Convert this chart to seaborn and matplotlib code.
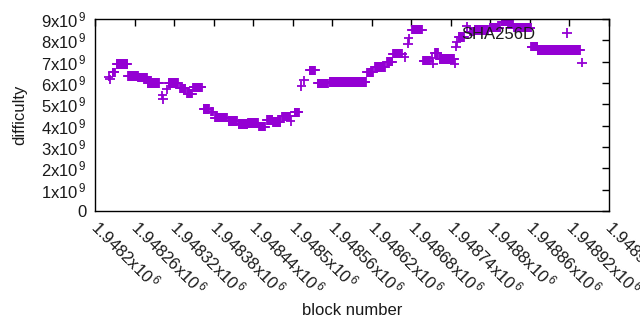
import numpy as np
import pandas as pd
import matplotlib
matplotlib.use("Agg")
import matplotlib.pyplot as plt
import seaborn as sns
from matplotlib.ticker import FuncFormatter, MultipleLocator

# runs of constant difficulty: first block, last block, difficulty (x1e9)
run_start = [1948221, 1948223, 1948227, 1948233, 1948250, 1948266, 1948280, 1948302, 1948303,
             1948309, 1948312, 1948329, 1948340, 1948349, 1948365, 1948376, 1948382, 1948403,
             1948418, 1948432, 1948449, 1948461, 1948470, 1948484, 1948497, 1948503, 1948513,
             1948517, 1948526, 1948538, 1948556, 1948613, 1948625, 1948643, 1948652, 1948670,
             1948675, 1948676, 1948681, 1948698, 1948711, 1948713, 1948716, 1948723, 1948746,
             1948748, 1948749, 1948752, 1948764, 1948769, 1948776, 1948799, 1948817, 1948827,
             1948836, 1948862, 1948872, 1948939]
run_end = [1948221, 1948223, 1948230, 1948249, 1948265, 1948279, 1948297, 1948302, 1948303,
           1948309, 1948326, 1948337, 1948347, 1948362, 1948373, 1948379, 1948400, 1948415,
           1948431, 1948447, 1948458, 1948469, 1948481, 1948496, 1948497, 1948509, 1948513,
           1948517, 1948534, 1948553, 1948611, 1948622, 1948640, 1948651, 1948666, 1948670,
           1948675, 1948676, 1948696, 1948708, 1948711, 1948713, 1948720, 1948745, 1948746,
           1948748, 1948749, 1948760, 1948764, 1948775, 1948796, 1948814, 1948825, 1948834,
           1948861, 1948871, 1948936, 1948939]
run_diff = [6.30, 6.18, 6.50, 6.89, 6.33, 6.27, 6.00, 5.42, 5.25,
            5.70, 6.00, 5.75, 5.50, 5.80, 4.78, 4.65, 4.37, 4.22,
            4.08, 4.12, 3.96, 4.26, 4.17, 4.43, 4.20, 4.62, 5.86,
            6.12, 6.60, 5.98, 6.04, 6.50, 6.75, 7.00, 7.37, 7.22,
            7.85, 8.10, 8.50, 7.05, 7.17, 6.90, 7.40, 7.12, 6.90,
            7.70, 7.90, 8.15, 8.65, 8.40, 8.48, 8.60, 8.88, 8.75,
            8.60, 7.70, 7.55, 6.95]

blocks, diffs = [], []
for s, e, d in zip(run_start, run_end, run_diff):
    for b in range(s, e + 1):
        blocks.append(b)
        diffs.append(d * 1e9)
df = pd.DataFrame({"block number": blocks, "difficulty": diffs, "algo": "SHA256D"})

sns.set_theme(style="white")
plt.rcParams["font.family"] = ["Liberation Sans", "DejaVu Sans"]
plt.rcParams["mathtext.fontset"] = "custom"
plt.rcParams["mathtext.rm"] = "Liberation Sans"
plt.rcParams["mathtext.it"] = "Liberation Sans"

FS = 12
color = "#9400d3"
fig = plt.figure(figsize=(6.4, 3.3), dpi=100)
ax = fig.add_axes([95 / 640, 1 - 211 / 330, (609 - 95) / 640, (211 - 19) / 330])

sns.scatterplot(data=df, x="block number", y="difficulty", hue="algo", palette=[color],
                marker="+", s=45, linewidth=1.3, ax=ax)

ax.set_xlim(1948200, 1948980)
ax.set_ylim(0, 9e9)
ax.xaxis.set_major_locator(MultipleLocator(60))
ax.yaxis.set_major_locator(MultipleLocator(1e9))


def yfmt(v, pos):
    n = int(round(v / 1e9))
    return "0" if n == 0 else f"{n}x10$^{{\\,9}}$"


def xfmt(v, pos):
    return f"{v / 1e6:g}x10$^{{\\,6}}$"


ax.yaxis.set_major_formatter(FuncFormatter(yfmt))
ax.xaxis.set_major_formatter(FuncFormatter(xfmt))

for sp in ax.spines.values():
    sp.set_color("black")
    sp.set_linewidth(1.0)
ax.tick_params(axis="both", direction="in", length=5, width=1, color="black",
               top=True, right=True, labelsize=FS, labelcolor="#1a1a1a")
ax.tick_params(axis="y", pad=6)
ax.tick_params(axis="x", pad=9)
for lab in ax.get_xticklabels():
    lab.set_rotation(-45)
    lab.set_ha("left")
    lab.set_va("center")
    lab.set_rotation_mode("anchor")

ax.set_xlabel("block number", fontsize=FS, color="#1a1a1a", labelpad=3)
ax.set_ylabel("difficulty", fontsize=FS, color="#1a1a1a", labelpad=10)

leg = ax.legend(loc="upper right", bbox_to_anchor=(0.951, 0.96), frameon=False,
                markerfirst=False, fontsize=FS, handletextpad=0.9, handlelength=2.0,
                borderpad=0, borderaxespad=0, title=None)
for t in leg.get_texts():
    t.set_color("#1a1a1a")

fig.savefig("out.png", dpi=100, facecolor="white")
